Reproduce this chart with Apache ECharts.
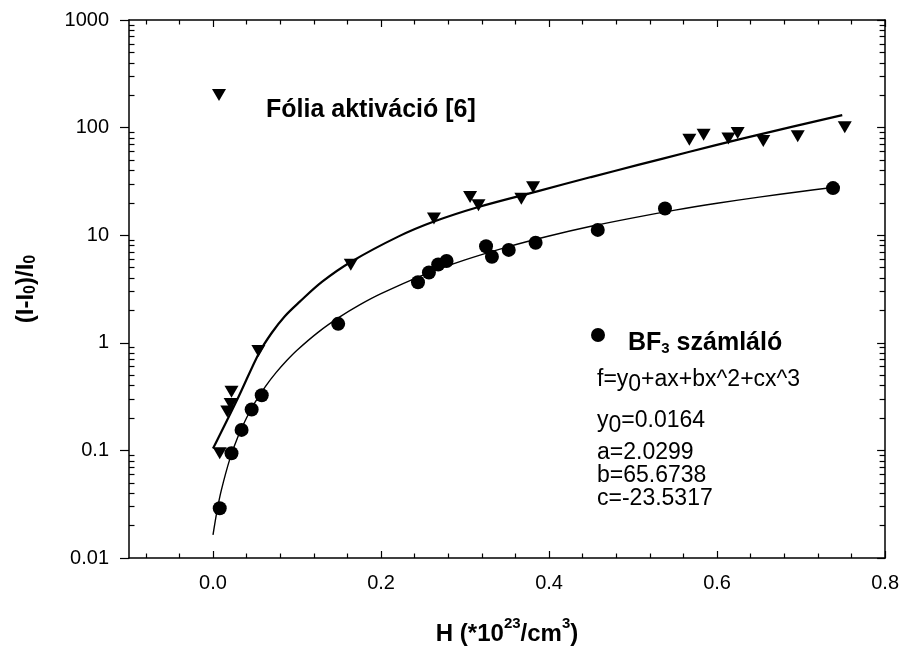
<!DOCTYPE html>
<html><head><meta charset="utf-8">
<script src="https://cdn.jsdelivr.net/npm/echarts@6/dist/echarts.min.js"></script>
<style>html,body{margin:0;padding:0;background:#fff}#c{width:902px;height:651px}</style>
</head><body><div id="c"></div><script>
// Fólia aktiváció [6] (triangles)
const foliaX = [0.008, 0.017, 0.021, 0.022, 0.054, 0.164, 0.263, 0.306, 0.316, 0.367, 0.381, 0.567, 0.584, 0.6135, 0.6245, 0.655, 0.696, 0.752];
const foliaY = [0.094, 0.23, 0.27, 0.35, 0.84, 5.3, 14.3, 22.6, 19.0, 21.8, 27.9, 77, 86, 79, 89, 75, 83, 101];
// BF3 számláló (circles)
const bf3X = [0.008, 0.022, 0.034, 0.046, 0.058, 0.149, 0.244, 0.257, 0.268, 0.278, 0.325, 0.332, 0.352, 0.384, 0.458, 0.538, 0.738];
const bf3Y = [0.029, 0.094, 0.155, 0.24, 0.325, 1.5, 3.65, 4.5, 5.35, 5.75, 7.9, 6.3, 7.3, 8.5, 11.2, 17.7, 27.4];
// fitted curves
const foliaFitX = [0, 0.03, 0.055, 0.07, 0.085, 0.103, 0.13, 0.164, 0.221, 0.263, 0.316, 0.387, 0.45, 0.506, 0.565, 0.625, 0.69, 0.749];
const foliaFitY = [0.104, 0.31, 0.81, 1.24, 1.75, 2.4, 3.7, 5.64, 9.75, 13.4, 18.3, 25.7, 34.7, 45, 59, 77.3, 102, 130.6];
const bf3FitX = [0, 0.005, 0.01, 0.02, 0.03, 0.04, 0.05, 0.0625, 0.075, 0.0875, 0.1, 0.125, 0.15, 0.175, 0.2, 0.25, 0.3, 0.35, 0.4, 0.45, 0.5, 0.55, 0.6, 0.65, 0.7, 0.74];
const bf3FitY = [0.0164, 0.028, 0.043, 0.083, 0.136, 0.201, 0.279, 0.394, 0.528, 0.681, 0.853, 1.25, 1.72, 2.26, 2.86, 4.26, 5.90, 7.76, 9.83, 12.1, 14.5, 17.1, 19.8, 22.6, 25.5, 27.9];
// ticks
const xMajorTicks = [0, 0.2, 0.4, 0.6, 0.8];
const xMinorTicks = [-0.08, -0.04, 0.04, 0.08, 0.12, 0.16, 0.24, 0.28, 0.32, 0.36, 0.44, 0.48, 0.52, 0.56, 0.64, 0.68, 0.72, 0.76];
const yMajorTicks = [0.01, 0.1, 1, 10, 100, 1000];
const yMinorTicks = [0.02,0.03,0.04,0.05,0.06,0.07,0.08,0.09,0.2,0.3,0.4,0.5,0.6,0.7,0.8,0.9,2,3,4,5,6,7,8,9,20,30,40,50,60,70,80,90,200,300,400,500,600,700,800,900];

const FONT = 'Liberation Sans';
const zip = (a, b) => a.map((v, i) => [v, b[i]]);

function xAx(pos, ticks, len, showLine, labels, extra) {
  return Object.assign({
    type: 'value', position: pos, min: -0.1, max: 0.8,
    axisLine: { show: showLine, onZero: false, lineStyle: { color: '#000', width: 1.5 } },
    axisTick: { show: true, inside: true, length: len, customValues: ticks, lineStyle: { color: '#000', width: 1.2 } },
    axisLabel: labels ? { show: true, customValues: xMajorTicks, formatter: v => Number(v).toFixed(1), color: '#000', fontSize: 20, fontFamily: FONT, margin: 15 } : { show: false },
    splitLine: { show: false }
  }, extra || {});
}
function yAx(pos, ticks, len, inside, showLine, labels, extra) {
  return Object.assign({
    type: 'log', logBase: 10, position: pos, min: 0.01, max: 1000,
    axisLine: { show: showLine, onZero: false, lineStyle: { color: '#000', width: 1.5 } },
    axisTick: { show: true, inside: inside, length: len, customValues: ticks, lineStyle: { color: '#000', width: 1.2 } },
    axisLabel: labels ? { show: true, customValues: yMajorTicks, formatter: v => String(Number(Number(v).toPrecision(6))), color: '#000', fontSize: 20, fontFamily: FONT, margin: 20 } : { show: false },
    splitLine: { show: false }
  }, extra || {});
}

const chart = echarts.init(document.getElementById('c'), null, { renderer: 'canvas' });
chart.setOption({
  animation: false,
  backgroundColor: '#fff',
  grid: { left: 129, top: 20, width: 759, height: 547, containLabel: false },
  xAxis: [
    xAx('bottom', xMajorTicks, 7, true, true, {
      name: '{b|H (*10}{sup|23}{b|/cm}{sup|3}{b|)}', nameLocation: 'middle', nameGap: 58,
      nameTextStyle: { color: '#000', fontFamily: FONT, rich: {
        b: { fontSize: 24, fontWeight: 'bold', fontFamily: FONT, color: '#000', lineHeight: 30, verticalAlign: 'bottom' },
        sup: { fontSize: 15, fontWeight: 'bold', fontFamily: FONT, color: '#000', lineHeight: 15, verticalAlign: 'top' } } }
    }),
    xAx('bottom', xMinorTicks, 4.5, false, false),
    xAx('top', xMajorTicks, 7, true, false),
    xAx('top', xMinorTicks, 4.5, false, false)
  ],
  yAxis: [
    yAx('left', yMajorTicks, 9, false, true, true, {
      name: '{b|(I-I}{sub|0}{b|)/I}{sub|0}', nameLocation: 'middle', nameGap: 90,
      nameTextStyle: { color: '#000', fontFamily: FONT, rich: {
        b: { fontSize: 24, fontWeight: 'bold', fontFamily: FONT, color: '#000' },
        sub: { fontSize: 16, fontWeight: 'bold', fontFamily: FONT, color: '#000', padding: [10, 0, 0, 0] } } }
    }),
    yAx('left', yMinorTicks, 5.5, true, false, false),
    yAx('right', yMajorTicks, 8, true, true, false),
    yAx('right', yMinorTicks, 5.5, true, false, false)
  ],
  series: [
    { name: 'Fólia fit', type: 'line', data: zip(foliaFitX, foliaFitY), showSymbol: false, smooth: 0.35,
      lineStyle: { color: '#000', width: 2.2 }, z: 2, silent: true },
    { name: 'BF3 fit', type: 'line', data: zip(bf3FitX, bf3FitY), showSymbol: false, smooth: 0.35,
      lineStyle: { color: '#000', width: 1.4 }, z: 2, silent: true },
    { name: 'Fólia aktiváció [6]', type: 'scatter', data: zip(foliaX, foliaY), symbol: 'triangle', symbolRotate: 180, symbolSize: [14, 12],
      itemStyle: { color: '#000', opacity: 1 }, z: 3 },
    { name: 'BF3 számláló', type: 'scatter', data: zip(bf3X, bf3Y), symbol: 'circle', symbolSize: 14,
      itemStyle: { color: '#000', opacity: 1 }, z: 3 }
  ],
  graphic: [
    { type: 'polygon', x: 219, y: 95, shape: { points: [[-7, -6], [7, -6], [0, 6]] }, style: { fill: '#000' } },
    { type: 'text', x: 266, y: 110, style: { text: 'Fólia aktiváció [6]', font: 'bold 25px "Liberation Sans"', fill: '#000', verticalAlign: 'middle' } },
    { type: 'circle', x: 598, y: 335, shape: { cx: 0, cy: 0, r: 7 }, style: { fill: '#000' } },
    { type: 'text', x: 628, y: 343, style: { text: '{b|BF}{s|3}{b| számláló}', verticalAlign: 'middle', rich: {
        b: { font: 'bold 25px "Liberation Sans"', fill: '#000' },
        s: { font: 'bold 15px "Liberation Sans"', fill: '#000', padding: [12, 0, 0, 0] } } } },
    { type: 'text', x: 597, y: 380, style: { text: '{n|f=y}{s|0}{n|+ax+bx^2+cx^3}', verticalAlign: 'middle', rich: {
        n: { font: '23px "Liberation Sans"', fill: '#000' },
        s: { font: '23px "Liberation Sans"', fill: '#000', padding: [9, 0, 0, 0] } } } },
    { type: 'text', x: 597, y: 421, style: { text: '{n|y}{s|0}{n|=0.0164}', verticalAlign: 'middle', rich: {
        n: { font: '23px "Liberation Sans"', fill: '#000' },
        s: { font: '23px "Liberation Sans"', fill: '#000', padding: [9, 0, 0, 0] } } } },
    { type: 'text', x: 597, y: 453, style: { text: 'a=2.0299', font: '23px "Liberation Sans"', fill: '#000', verticalAlign: 'middle' } },
    { type: 'text', x: 597, y: 476, style: { text: 'b=65.6738', font: '23px "Liberation Sans"', fill: '#000', verticalAlign: 'middle' } },
    { type: 'text', x: 597, y: 499, style: { text: 'c=-23.5317', font: '23px "Liberation Sans"', fill: '#000', verticalAlign: 'middle' } }
  ]
});
</script></body></html>
